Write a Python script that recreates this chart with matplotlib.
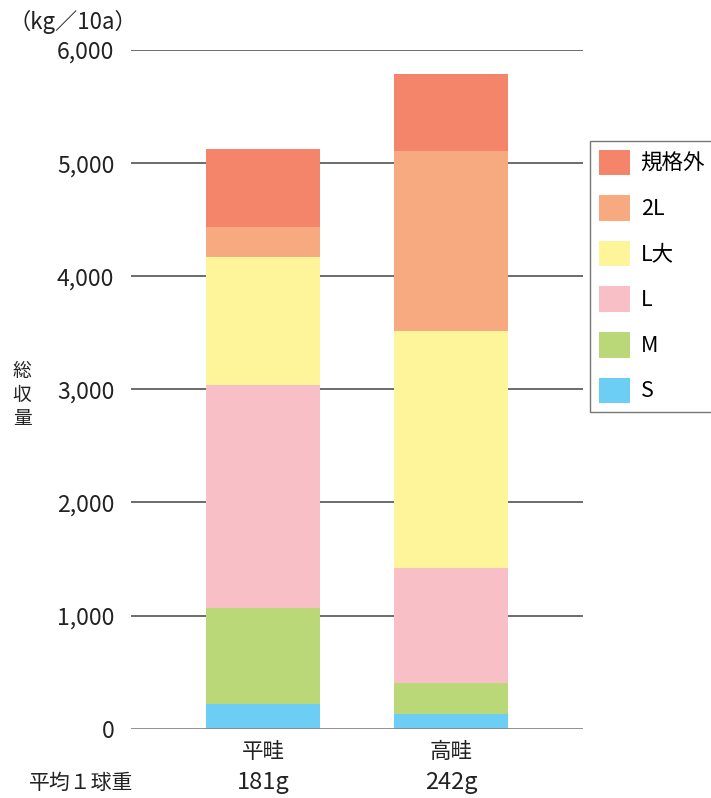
import numpy as np
import matplotlib.pyplot as plt

plt.rcParams['font.family'] = ['Noto Sans CJK JP', 'DejaVu Sans']

categories = ['平畦', '高畦']
avg_weight = ['181g', '242g']
grades = ['S', 'M', 'L', 'L大', '2L', '規格外']
values = {
    'S': [218, 130],
    'M': [847, 270],
    'L': [1977, 1018],
    'L大': [1129, 2101],
    '2L': [266, 1588],
    '規格外': [688, 680],
}
colors = ['#6CCEF5', '#BBD878', '#F8BFC6', '#FEF59A', '#F7A97F', '#F4856A']

fig = plt.figure(figsize=(7.11, 7.98), dpi=100)
ax = fig.add_axes([131 / 711, 1 - 728.7 / 798, (583 - 131) / 711, (728.7 - 50) / 798])

x = np.arange(len(categories))
bottom = np.zeros(len(categories))
handles = []
for g, c in zip(grades, colors):
    v = np.array(values[g])
    h = ax.bar(x, v, 0.606, bottom=bottom, color=c, zorder=3, label=g)
    handles.append(h)
    bottom += v

ax.set_xlim(-0.702, 1.702)
ax.set_ylim(0, 6000)
yt = np.arange(0, 6001, 1000)
ax.set_yticks(yt)
ax.set_yticklabels([f'{v:,}' for v in yt], fontsize=16.5, color='#222222')
for v in yt[1:]:
    ax.axhline(v, color='#444444', lw=1.1, zorder=1)
ax.axhline(0, color='#888888', lw=2.0, zorder=4)
for s in ax.spines.values():
    s.set_visible(False)
ax.tick_params(axis='y', length=0, pad=12)
ax.set_xticks([])

for xi, cat, w in zip(x, categories, avg_weight):
    ax.annotate(cat, (xi, 0), xytext=(0, -17), textcoords='offset points',
                ha='center', va='center', fontsize=15.5, color='#222222')
    ax.annotate(w, (xi, 0), xytext=(0, -39), textcoords='offset points',
                ha='center', va='center', fontsize=17, color='#222222')

fig.text(81 / 711, 1 - 783 / 798, '平均１球重', ha='center', va='center', fontsize=15, color='#222222')
fig.text(8 / 711, 1 - 22 / 798, '（kg／10a）', ha='left', va='center', fontsize=16, color='#222222')
fig.text(22 / 711, 1 - 395 / 798, '総\n収\n量', ha='center', va='center', fontsize=13.5,
         color='#222222', linespacing=1.15)

leg = fig.legend(handles[::-1], grades[::-1], loc='upper left',
                 bbox_to_anchor=(590 / 711, 1 - 141 / 798), fontsize=15.5,
                 frameon=True, fancybox=False, edgecolor='#555555',
                 handlelength=1.45, handleheight=1.45, labelspacing=0.93,
                 handletextpad=0.5, borderpad=0.4, borderaxespad=0)
leg.get_frame().set_linewidth(1.0)

fig.savefig('out.png', dpi=100)
